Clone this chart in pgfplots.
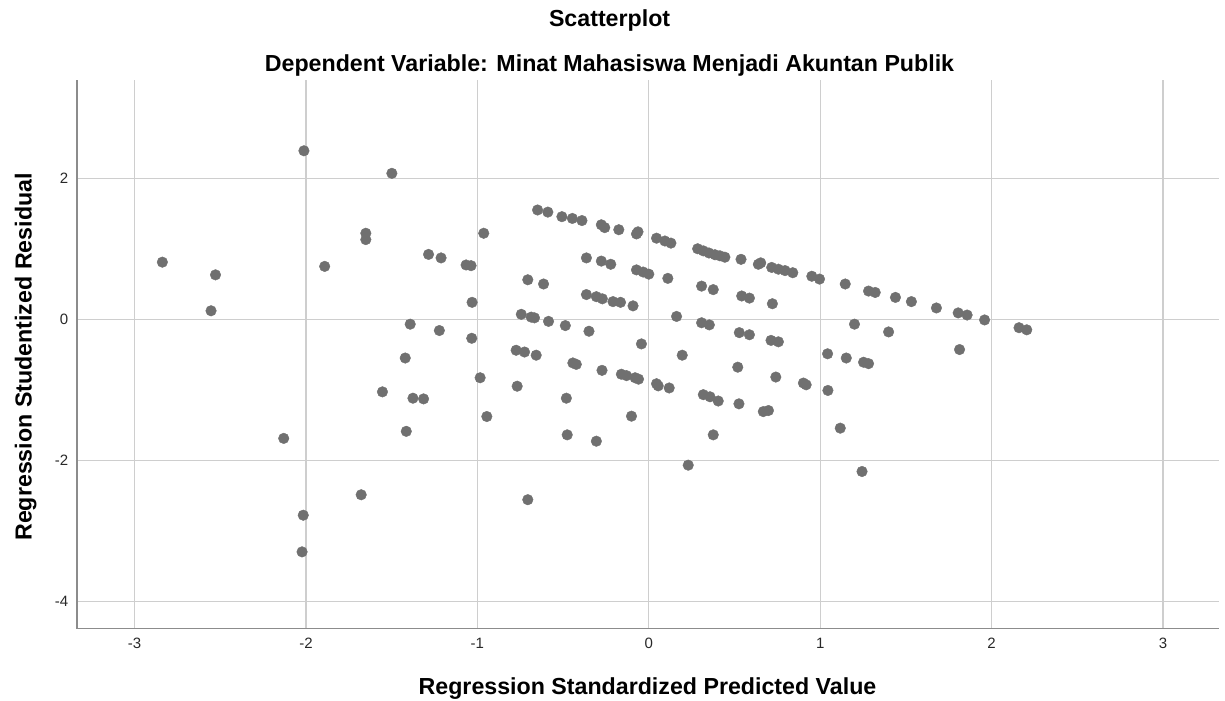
\documentclass[border=0pt]{standalone}
\usepackage{fontspec}
\setmainfont{Liberation Sans}
\usepackage{pgfplots}
\pgfplotsset{compat=1.18}
\definecolor{dot}{RGB}{112,112,112}
\definecolor{gridc}{RGB}{206,206,206}
\definecolor{axc}{RGB}{140,140,140}
\definecolor{tickc}{RGB}{40,40,40}
\pgfplotstableread{
x y
-2.012 2.39
-1.499 2.07
-1.651 1.22
-1.651 1.13
-0.963 1.22
-2.838 0.81
-2.528 0.63
-2.554 0.12
-1.891 0.75
-1.285 0.92
-1.212 0.87
-1.066 0.77
-1.037 0.76
-1.031 0.24
-1.392 -0.07
-1.222 -0.16
-1.033 -0.27
-1.421 -0.55
-0.984 -0.83
-1.554 -1.03
-1.376 -1.12
-1.314 -1.13
-0.945 -1.38
-1.415 -1.59
-2.130 -1.69
-1.678 -2.49
-2.016 -2.78
-2.023 -3.30
-0.649 1.55
-0.589 1.52
-0.507 1.455
-0.446 1.43
-0.390 1.40
-0.277 1.34
-0.257 1.30
-0.175 1.27
-0.072 1.21
-0.063 1.24
0.045 1.15
0.094 1.11
0.129 1.08
0.285 1.00
0.318 0.97
0.351 0.94
0.386 0.915
0.415 0.90
0.444 0.88
0.538 0.85
0.639 0.78
0.653 0.80
0.717 0.735
0.756 0.71
0.795 0.69
0.840 0.66
0.951 0.61
0.996 0.57
1.146 0.50
1.282 0.40
1.321 0.38
1.439 0.31
1.532 0.25
1.678 0.16
1.805 0.09
1.857 0.06
1.959 -0.01
2.160 -0.12
2.205 -0.15
-0.364 0.87
-0.277 0.825
-0.222 0.78
-0.072 0.70
-0.033 0.67
0.000 0.64
0.111 0.58
0.308 0.47
0.376 0.42
0.542 0.33
0.587 0.30
0.721 0.22
1.200 -0.07
1.399 -0.18
1.813 -0.43
-0.706 0.56
-0.614 0.50
-0.364 0.35
-0.306 0.32
-0.271 0.29
-0.209 0.25
-0.165 0.24
-0.092 0.19
0.162 0.04
0.308 -0.05
0.353 -0.08
0.528 -0.19
0.587 -0.22
0.713 -0.30
0.756 -0.32
-0.744 0.07
-0.686 0.03
-0.667 0.02
-0.585 -0.03
-0.487 -0.09
-0.349 -0.17
-0.043 -0.35
0.195 -0.51
0.519 -0.68
1.043 -0.49
1.152 -0.55
1.253 -0.61
1.282 -0.63
-0.774 -0.44
-0.725 -0.465
-0.657 -0.51
-0.443 -0.62
-0.423 -0.64
-0.273 -0.725
-0.160 -0.78
-0.130 -0.80
-0.080 -0.83
-0.060 -0.85
0.045 -0.915
0.055 -0.945
0.119 -0.975
0.318 -1.07
0.357 -1.10
0.405 -1.16
0.526 -1.20
0.668 -1.31
0.698 -1.295
0.741 -0.82
0.902 -0.905
0.918 -0.93
1.045 -1.01
1.117 -1.545
1.244 -2.16
0.230 -2.07
0.376 -1.64
-0.768 -0.95
-0.481 -1.12
-0.476 -1.64
-0.306 -1.73
-0.101 -1.375
-0.706 -2.56
}\residuals
\begin{document}
\begin{tikzpicture}[x=1bp,y=1bp]
\path[use as bounding box] (0,0) rectangle (1225,701);
\begin{axis}[
  at={(77bp,72.3bp)}, anchor=south west,
  width=1142bp, height=548.4bp, scale only axis,
  xmin=-3.336, xmax=3.327, ymin=-4.39, ymax=3.39,
  axis x line*=bottom, axis y line*=left,
  axis line style={draw=axc, line width=1.3bp},
  grid=major, major grid style={draw=gridc, line width=1.1bp},
  xtick={-3,-2,-1,0,1,2,3}, xticklabels={-3,-2,-1,0,1,2,3},
  ytick={-4,-2,0,2}, yticklabels={-4,-2,0,2},
  major tick length=0pt, tick style={draw=none},
  ticklabel style={font=\fontsize{15bp}{18bp}\selectfont, text=tickc},
  xticklabel style={anchor=north, inner sep=0pt, yshift=-9.3bp},
  yticklabel style={anchor=east, inner sep=0pt, xshift=-8.5bp},
]
\addplot[only marks, mark=*, mark size=5.3bp, mark options={fill=dot, draw=dot}] table[x=x,y=y] {\residuals};
\end{axis}
\node[anchor=base, font=\fontsize{23.2bp}{28bp}\selectfont\bfseries] at (609.6,674.3) {Scatterplot};
\node[anchor=base, font=\fontsize{23.2bp}{28bp}\selectfont\bfseries] at (609.5,629) {Dependent Variable: Minat Mahasiswa Menjadi Akuntan Publik};
\node[anchor=base, font=\fontsize{23.2bp}{28bp}\selectfont\bfseries] at (647.5,6) {Regression Standardized Predicted Value};
\node[anchor=base, rotate=90, font=\fontsize{23.2bp}{28bp}\selectfont\bfseries] at (31.5,344) {Regression Studentized Residual};
\end{tikzpicture}
\end{document}
